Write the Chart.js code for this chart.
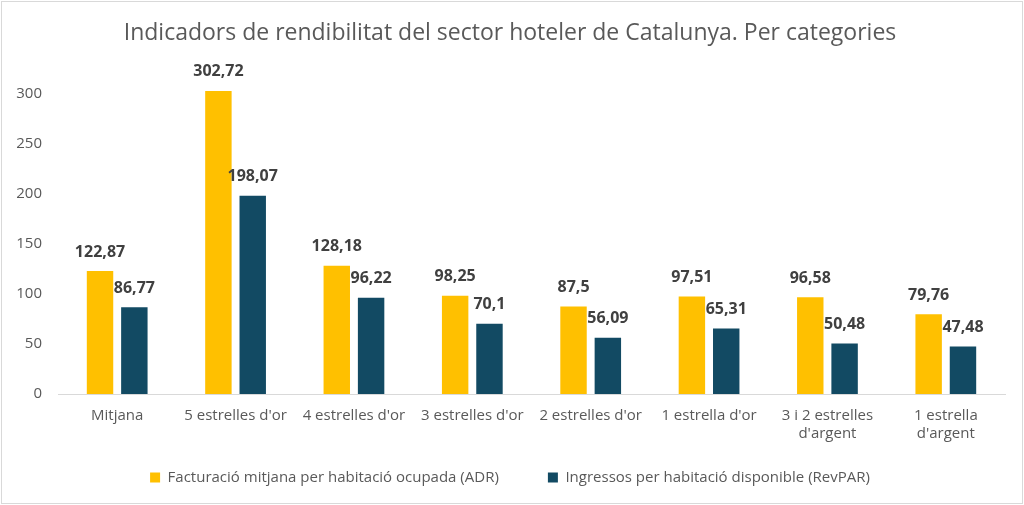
<!DOCTYPE html>
<html>
<head>
<meta charset="utf-8">
<script src="https://cdn.jsdelivr.net/npm/chart.js@4.4.1/dist/chart.umd.min.js"></script>
<style>
  html, body { margin: 0; padding: 0; background: #fff; }
  #wrap { position: absolute; left: 1px; top: 1px; width: 1020px; height: 501px; border: 1px solid #d9d9d9; }
</style>
</head>
<body>
<div id="wrap"><canvas id="grafic"></canvas></div>
<script>
const categories = [
    'Mitjana', "5 estrelles d'or", "4 estrelles d'or", "3 estrelles d'or",
    "2 estrelles d'or", "1 estrella d'or", ['3 i 2 estrelles', "d'argent"], ['1 estrella', "d'argent"]
];
const adr = [122.87, 302.72, 128.18, 98.25, 87.5, 97.51, 96.58, 79.76];
const revpar = [86.77, 198.07, 96.22, 70.1, 56.09, 65.31, 50.48, 47.48];
const yTicks = [0, 50, 100, 150, 200, 250, 300];

const fontFamily = "'Open Sans', 'Noto Sans', sans-serif";

// Etiquetes de valor sobre les barres (sense plugin extern)
const etiquetesValor = {
    id: 'etiquetesValor',
    afterDatasetsDraw(chart) {
        const ctx = chart.ctx;
        ctx.save();
        ctx.font = "bold 16px " + fontFamily;
        ctx.fillStyle = '#404040';
        ctx.textAlign = 'center';
        ctx.textBaseline = 'middle';
        chart.data.datasets.forEach((ds, i) => {
            chart.getDatasetMeta(i).data.forEach((bar, j) => {
                const text = String(ds.data[j]).replace('.', ',');
                ctx.fillText(text, bar.x, bar.y - 19);
            });
        });
        ctx.restore();
    }
};

new Chart(document.getElementById('grafic'), {
    type: 'bar',
    data: {
        labels: categories,
        datasets: [
            { label: 'Facturació mitjana per habitació ocupada (ADR)', data: adr, backgroundColor: '#FFC000' },
            { label: 'Ingressos per habitació disponible (RevPAR)', data: revpar, backgroundColor: '#124A63' }
        ]
    },
    options: {
        responsive: true,
        maintainAspectRatio: false,
        animation: false,
        categoryPercentage: 0.58,
        barPercentage: 0.77,
        layout: { padding: { left: 13, right: 17, top: 0, bottom: 8 } },
        scales: {
            x: {
                grid: { display: false, drawTicks: false },
                border: { color: '#d9d9d9', width: 1 },
                ticks: { color: '#595959', font: { size: 15, family: fontFamily }, padding: 13, maxRotation: 0 }
            },
            y: {
                min: 0,
                max: 350,
                afterBuildTicks: (axis) => { axis.ticks = yTicks.map(v => ({ value: v })); },
                afterFit: (axis) => { axis.width = 43; },
                grid: { display: false, drawTicks: false },
                border: { display: false },
                ticks: { color: '#595959', font: { size: 15, family: fontFamily }, padding: 16 }
            }
        },
        plugins: {
            title: {
                display: true,
                text: 'Indicadors de rendibilitat del sector hoteler de Catalunya. Per categories',
                color: '#595959',
                font: { size: 23, weight: 'normal', family: fontFamily },
                padding: { top: 18, bottom: -4 }
            },
            legend: {
                position: 'bottom',
                labels: {
                    color: '#595959',
                    font: { size: 15, family: fontFamily },
                    boxWidth: 10,
                    boxHeight: 10,
                    padding: 14,
                    // espai extra entre les dues entrades de la llegenda
                    generateLabels: (chart) => {
                        const items = Chart.defaults.plugins.legend.labels.generateLabels(chart);
                        items[0].text = items[0].text + '\u00a0'.repeat(9);
                        return items;
                    }
                }
            },
            tooltip: { enabled: false }
        }
    },
    plugins: [etiquetesValor]
});
</script>
</body>
</html>
